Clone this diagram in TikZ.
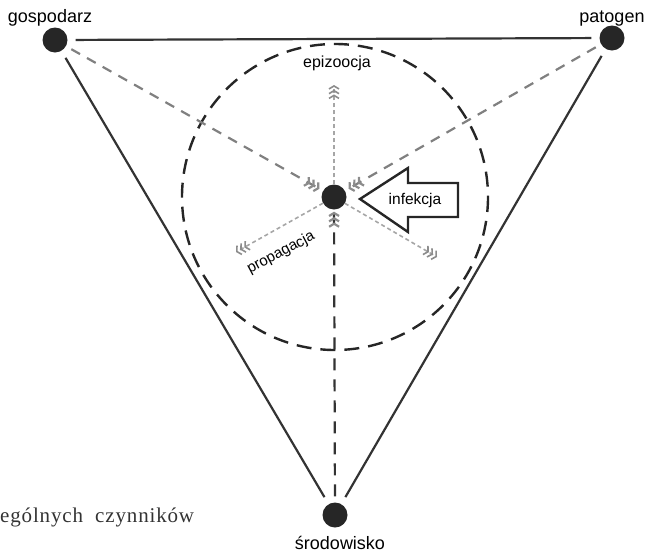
\documentclass[tikz,border=0pt]{standalone}
\usepackage{fontspec}
\setmainfont{Liberation Sans}
\newfontfamily\bookface[LetterSpace=4]{Liberation Serif}
\usetikzlibrary{arrows.meta}

\begin{document}
\begin{tikzpicture}[x=1pt, y=-1pt, font=\fontsize{18}{21}\selectfont,
  >={Straight Barb[length=3pt,width=10pt,color=black!45] Straight Barb[length=3pt,width=10pt,color=black!45] Straight Barb[length=3pt,width=10pt,color=black!45]},
  dot/.style={circle, fill=black!85, inner sep=0pt, minimum size=25pt},
  side/.style={draw=black!80, line width=2.2pt, shorten <=8pt, shorten >=8pt},
  feed/.style={draw=black!50, line width=2.2pt, dash pattern=on 10pt off 8pt, shorten <=6pt, shorten >=4pt, ->},
  spread/.style={draw=black!35, line width=1.6pt, dash pattern=on 4pt off 3pt, ->},
  ring/.style={draw=black!85, line width=2.4pt, dash pattern=on 15pt off 9pt},
  block/.style={draw=black!85, line width=2.4pt, fill=white, line join=miter}]
\useasboundingbox (0,0) rectangle (654,555);
% the three factors and the centre
\node[dot] (host) at (55,40) {};
\node[dot] (pathogen) at (612,38) {};
\node[dot] (env) at (335,515) {};
\node[dot] (centre) at (334,197) {};
\node[anchor=base] (hostlbl) at (50,22) {gospodarz};
\node[anchor=base] (pathlbl) at (612,22) {patogen};
\node[anchor=base, inner sep=1pt] (envlbl) at (340,549) {środowisko};
% triangle
\draw[side] (host) -- (pathogen);
\draw[side] (host) -- (env);
\draw[side] (pathogen) -- (env);
% dashed ring
\draw[ring] (335,197) circle[radius=153];
% inputs to the centre
\draw[feed] (host) -- (centre);
\draw[feed] (pathogen) -- (centre);
\draw[feed, draw=black!80, dash pattern=on 12pt off 9pt, shorten >=2pt] (env) -- (centre);
% spreading out
\coordinate (epi) at (334,85);
\coordinate (propL) at (236,252);
\coordinate (propR) at (437,257);
\draw[spread] (centre) -- (epi);
\draw[spread] (centre) -- (propL);
\draw[spread] (centre) -- (propR);
\node[font=\fontsize{16}{18}\selectfont] (epilbl) at (337,63) {epizoocja};
\node[font=\fontsize{15}{18}\selectfont, rotate=28] (proplbl) at (281,253) {propagacja};
% infection arrow
\draw[block] (360,199) -- (408,168) -- (408,183) -- (458,183) -- (458,217)
  -- (408,217) -- (408,232) -- cycle;
\node[font=\fontsize{15.5}{18}\selectfont] (inflbl) at (415,200) {infekcja};
% page text
\node[anchor=base west, inner sep=0pt, font=\bookface\fontsize{21}{24}\selectfont, text=black!80] (pagetxt) at (0,522) {ególnych\ \ czynników};
\end{tikzpicture}
\end{document}
